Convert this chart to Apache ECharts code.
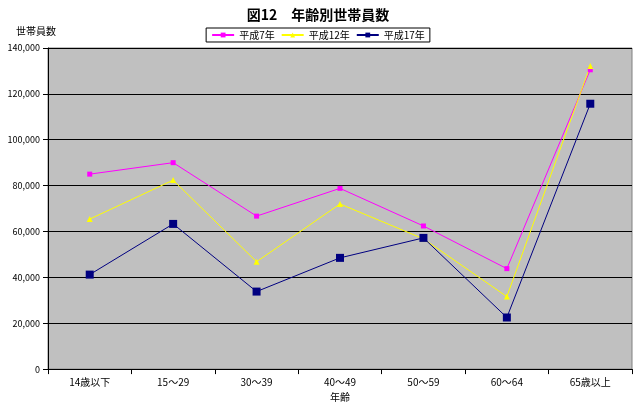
<!DOCTYPE html>
<html><head><meta charset="utf-8">
<script src="https://cdn.jsdelivr.net/npm/echarts@6/dist/echarts.min.js"></script>
<style>html,body{margin:0;padding:0;background:#fff}#c{width:636px;height:407px}</style>
</head><body><div id="c"></div>
<script>
const categories = ['14歳以下','15～29','30～39','40～49','50～59','60～64','65歳以上'];
const h7 = [85000, 90000, 66700, 78800, 62400, 43800, 130500];
const h12 = [65400, 82400, 46800, 72000, 56800, 31600, 132200];
const h17 = [41200, 63300, 33800, 48500, 57200, 22500, 115700];
const yTicks = [0,20000,40000,60000,80000,100000,120000,140000];
const font = '"Noto Sans CJK JP", sans-serif';
function fmt(v){return v.toString().replace(/\B(?=(\d{3})+(?!\d))/g, ',');}
const chart = echarts.init(document.getElementById('c'));
const mk = (name, data, color, symbol, size) => ({
  name, type:'line', data, symbol, symbolSize:size,
  lineStyle:{color, width:1}, itemStyle:{color}
});
chart.setOption({
  animation:false,
  textStyle:{fontFamily:font},
  title:{text:'図12　年齢別世帯員数', left:'center', top:3,
    textStyle:{fontSize:14, fontWeight:'bold', color:'#000', fontFamily:font}},
  legend:{top:28, left:'center', itemWidth:22, itemHeight:6, itemGap:6,
    borderColor:'#000', borderWidth:1, padding:[2,5], backgroundColor:'#fff',
    textStyle:{fontSize:10, color:'#000'},
    data:['平成7年','平成12年','平成17年']},
  grid:{left:48, right:4, top:48, bottom:36, show:true, backgroundColor:'#c0c0c0', borderColor:'#808080', borderWidth:1},
  xAxis:{type:'category', data:categories, boundaryGap:true, name:'年齢', nameLocation:'middle', nameGap:22,
    nameTextStyle:{fontSize:10, color:'#000'},
    axisLine:{lineStyle:{color:'#000'}}, axisTick:{show:true, lineStyle:{color:'#000'}},
    axisLabel:{fontSize:10, color:'#000', margin:8}},
  yAxis:{type:'value', min:yTicks[0], max:yTicks[yTicks.length-1], interval:20000,
    name:'世帯員数', nameLocation:'end', nameGap:12,
    nameTextStyle:{fontSize:10, color:'#000', align:'right', padding:[0,-8,0,0]},
    axisLine:{show:true, lineStyle:{color:'#000'}}, axisTick:{show:true, lineStyle:{color:'#000'}},
    axisLabel:{fontSize:9, color:'#000', formatter:fmt},
    splitLine:{lineStyle:{color:'#000', width:1}}},
  series:[
    mk('平成7年', h7, '#ff00ff', 'rect', 5),
    mk('平成12年', h12, '#ffff00', 'triangle', 6),
    mk('平成17年', h17, '#000080', 'rect', 8)
  ]
});
</script></body></html>
